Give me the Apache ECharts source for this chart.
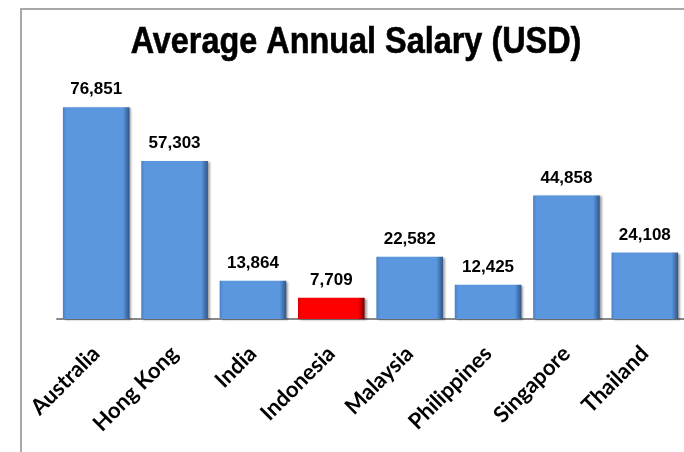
<!DOCTYPE html>
<html>
<head>
<meta charset="utf-8">
<script src="https://cdn.jsdelivr.net/npm/echarts@6/dist/echarts.min.js"></script>
<style>
html,body{margin:0;padding:0;background:#fff;}
#chart{width:684px;height:452px;}
</style>
</head>
<body>
<div id="chart"></div>
<script>
var categories = ['Australia', 'Hong Kong', 'India', 'Indonesia', 'Malaysia', 'Philippines', 'Singapore', 'Thailand'];
var salaries = [76851, 57303, 13864, 7709, 22582, 12425, 44858, 24108];
var highlighted = ['Indonesia'];
var titleText = 'Average Annual Salary (USD)';

function grad(mid, edgeL, edgeR) {
  return new echarts.graphic.LinearGradient(0, 0, 1, 0, [
    {offset: 0, color: edgeL},
    {offset: 0.05, color: mid},
    {offset: 0.9, color: mid},
    {offset: 1, color: edgeR}
  ]);
}

var chart = echarts.init(document.getElementById('chart'), null, {renderer: 'canvas'});
var data = categories.map(function (c, i) {
  var red = highlighted.indexOf(c) >= 0;
  return {
    value: salaries[i],
    itemStyle: {
      color: red ? grad('#ff0000', '#d80000', '#7a0000') : grad('#5b97df', '#4a80c4', '#2f5686')
    }
  };
});

chart.setOption({
  animation: false,
  backgroundColor: '#ffffff',
  graphic: [
    {
      type: 'rect',
      shape: {x: 21, y: 9, width: 800, height: 600},
      style: {fill: 'none', stroke: '#a8a8a8', lineWidth: 2},
      silent: true
    },
    {
      type: 'text',
      x: 356,
      y: 43,
      scaleX: 0.9,
      style: {
        text: titleText,
        fill: '#000',
        font: 'bold 36px "Liberation Sans", Arial, sans-serif',
        textAlign: 'center',
        textVerticalAlign: 'middle',
        stroke: '#000',
        lineWidth: 0.6
      }
    }
  ],
  grid: {left: 57, right: 0, top: 71, bottom: 133},
  xAxis: {
    type: 'category',
    data: categories,
    axisLine: {show: true, lineStyle: {color: '#888888', width: 2}},
    axisTick: {show: false},
    axisLabel: {
      rotate: 45,
      margin: 31,
      interval: 0,
      color: '#000',
      fontFamily: 'Lato',
      fontWeight: 'bold',
      fontSize: 22
    }
  },
  yAxis: {
    type: 'value',
    min: 0,
    max: 90000,
    show: false,
    splitLine: {show: false}
  },
  series: [{
    type: 'bar',
    data: data,
    barCategoryGap: '15%',
    itemStyle: {
      shadowColor: 'rgba(0,0,0,0.35)',
      shadowBlur: 2,
      shadowOffsetX: 2,
      shadowOffsetY: 1
    },
    label: {
      show: true,
      position: 'top',
      distance: 9,
      color: '#000',
      fontFamily: '"Liberation Sans", Arial, sans-serif',
      fontWeight: 'bold',
      fontSize: 17,
      formatter: function (p) { return p.value.toLocaleString('en-US'); }
    }
  }]
});
</script>
</body>
</html>
